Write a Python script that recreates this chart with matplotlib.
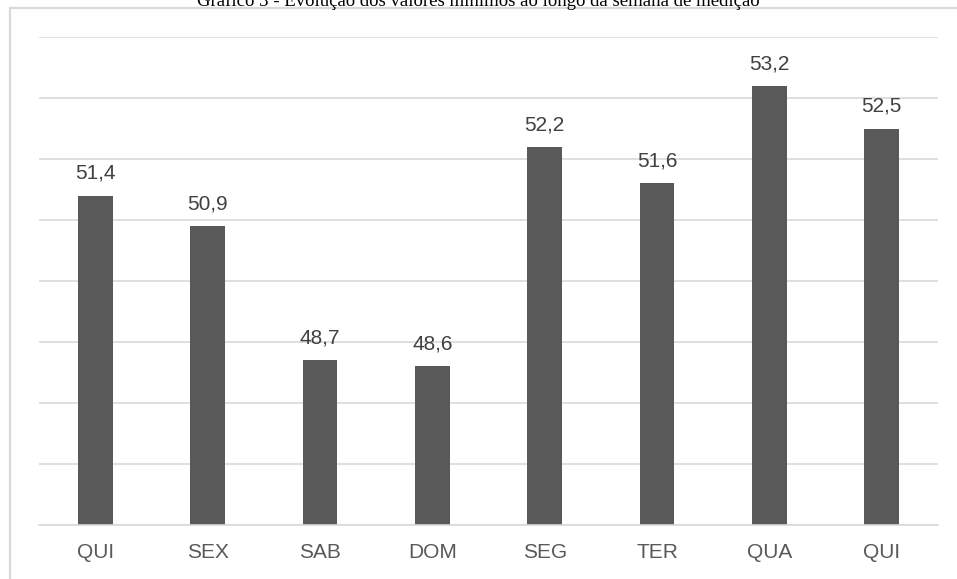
import matplotlib.pyplot as plt
from matplotlib.patches import Rectangle

# Minimum values per day over the measurement week
dias = ['QUI', 'SEX', 'SAB', 'DOM', 'SEG', 'TER', 'QUA', 'QUI']
minimos = [51.4, 50.9, 48.7, 48.6, 52.2, 51.6, 53.2, 52.5]

cor_barra = '#595959'
cor_grade = '#d9d9d9'

fig = plt.figure(figsize=(9.57, 5.79), dpi=100)
ax = fig.add_axes([39 / 957, 1 - 525 / 579, (938 - 39) / 957, (525 - 37) / 579])

x = range(len(dias))
ax.bar(x, minimos, width=0.31, color=cor_barra, zorder=3)

for i, v in enumerate(minimos):
    ax.annotate(f'{v:.1f}'.replace('.', ','), (i, v), xytext=(0, 12),
                textcoords='offset points', ha='center', va='baseline',
                fontsize=15, color='#404040', family='Liberation Sans')

ax.set_xlim(-0.5, len(dias) - 0.5)
ax.set_ylim(46, 54)
ax.set_yticks(range(46, 55))
ax.yaxis.grid(True, color=cor_grade, linewidth=1.2, zorder=0)
ax.set_yticklabels([])
ax.tick_params(axis='y', length=0)
ax.set_xticks(list(x))
ax.set_xticklabels(dias, fontsize=15, color=cor_barra, family='Liberation Sans')
ax.tick_params(axis='x', length=0, pad=13)
for lado in ['top', 'right', 'left']:
    ax.spines[lado].set_visible(False)
ax.spines['bottom'].set_color(cor_grade)
ax.spines['bottom'].set_linewidth(1.2)
ax.spines['bottom'].set_zorder(4)

# chart area frame (only the left and top edges fall inside the figure)
fig.patches.append(Rectangle((10 / 957, -0.1), 1.2, 1 - 8 / 579 + 0.1,
                             transform=fig.transFigure, fill=False,
                             edgecolor=cor_grade, linewidth=1.6))

fig.text(0.5, 1 - 6 / 579,
         'Gráfico 3 - Evolução dos valores mínimos ao longo da semana de medição',
         ha='center', va='baseline', fontsize=13.5, family='Liberation Serif',
         color='black')

fig.savefig('out.png', dpi=100)
